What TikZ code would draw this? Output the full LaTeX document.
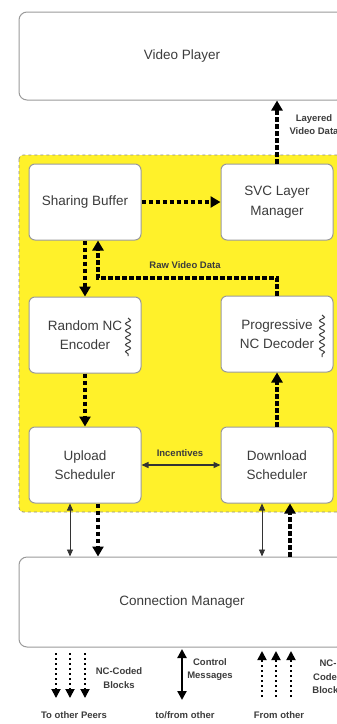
\documentclass[tikz,border=0pt]{standalone}
\usepackage{fontspec}
\setmainfont{Liberation Sans}
\usetikzlibrary{arrows.meta,decorations.pathmorphing}
\definecolor{ylw}{HTML}{FFF12A}
\definecolor{txt}{HTML}{3C3C3C}
\definecolor{bord}{HTML}{9A9A9A}
\begin{document}
\begin{tikzpicture}[x=1pt,y=-1pt,
  box/.style={draw=bord,line width=1pt,rounded corners=6pt,fill=white,minimum width=112pt,minimum height=76pt,align=center,text=txt,font=\fontsize{13.5}{19.5}\selectfont,inner sep=0pt},
  big/.style={box,minimum width=326pt,minimum height=88pt,rounded corners=8pt},
  lbl/.style={font=\bfseries\fontsize{9.5}{13.5}\selectfont,text=txt,align=center,inner sep=0pt},
  tk/.style={line width=3.2pt,dash pattern=on 4.5pt off 2.5pt,-{Triangle[width=11pt,length=10pt]}},
  thn/.style={line width=0.9pt,draw=black!80,{Triangle[width=6pt,length=7pt]}-{Triangle[width=6pt,length=7pt]}},
  dt/.style={line width=1.8pt,dash pattern=on 1.8pt off 3.2pt,-{Triangle[width=9pt,length=9pt]}},
  sq/.style={decorate,decoration={snake,amplitude=2.5pt,segment length=7pt},line width=1pt,draw=txt}
]
\useasboundingbox (0,0) rectangle (337,724);
\draw[fill=ylw,draw=black!45,dashed,line width=0.8pt,rounded corners=4pt] (19,155) rectangle (360,512);

\node[big] (vp) at (182,56) {Video Player};
\node[box] (sb) at (85,202) {Sharing Buffer};
\node[box] (svc) at (277,202) {SVC Layer\\Manager};
\node[box] (enc) at (85,335) {Random NC\\Encoder};
\node[box] (dec) at (277,334) {Progressive\\NC Decoder};
\node[box] (up) at (85,465) {Upload\\Scheduler};
\node[box] (dn) at (277,465) {Download\\Scheduler};
\node[big,minimum height=90pt] (cm) at (182,602) {Connection Manager};

\draw[sq] (128,318) -- (128,356);
\draw[sq] (322,315) -- (322,357);

\draw[tk] (svc.north) -- (svc.north |- vp.south);
\node[lbl] (lv) at (314,124.5) {Layered\\Video Data};
\draw[tk] (sb.east) -- (svc.west);
\draw[tk] (sb.south) -- (enc.north);
\coordinate (rv) at (0,278);
\coordinate (r1) at ([xshift=13pt]sb.south);
\draw[tk] (dec.north) -- (dec.north |- rv) -- (r1 |- rv) -- (r1);
\node[lbl] (rvl) at (185,265) {Raw Video Data};
\draw[tk] (enc.south) -- (up.north);
\draw[tk] (dn.north) -- (dec.south);
\draw[thn,line width=1.3pt] (up.east) -- (dn.west);
\node[lbl] (inc) at (180,453) {Incentives};

\coordinate (u1) at ([xshift=-15pt]up.south);
\coordinate (u2) at ([xshift=13pt]up.south);
\coordinate (d1) at ([xshift=-15pt]dn.south);
\coordinate (d2) at ([xshift=13pt]dn.south);
\draw[thn] (u1) -- (u1 |- cm.north);
\draw[tk] (u2) -- (u2 |- cm.north);
\draw[thn] (d1) -- (d1 |- cm.north);
\draw[tk] (d2 |- cm.north) -- (d2);

\foreach \x in {56,70,85}{
  \coordinate (s) at (\x,653); \coordinate (t) at (\x,698);
  \draw[dt] (s) -- (t);}
\foreach \x in {262,276,291}{
  \coordinate (s) at (\x,697); \coordinate (t) at (\x,651);
  \draw[dt] (s) -- (t);}
\coordinate (c1) at (182,649); \coordinate (c2) at (182,700);
\draw[line width=2.2pt,{Triangle[width=9pt,length=9pt]}-{Triangle[width=9pt,length=9pt]}] (c1) -- (c2);

\node[lbl] (ncl) at (119,678) {NC-Coded\\Blocks};
\node[lbl] (ctl) at (210,669.5) {Control\\Messages};
\node[lbl] (ncr) at (328,677) {NC-\\Coded\\Blocks};
\node[lbl] (b1) at (74,715) {To other Peers};
\node[lbl] (b2) at (185,715) {to/from other};
\node[lbl] (b3) at (279,715) {From other};
\end{tikzpicture}
\end{document}
